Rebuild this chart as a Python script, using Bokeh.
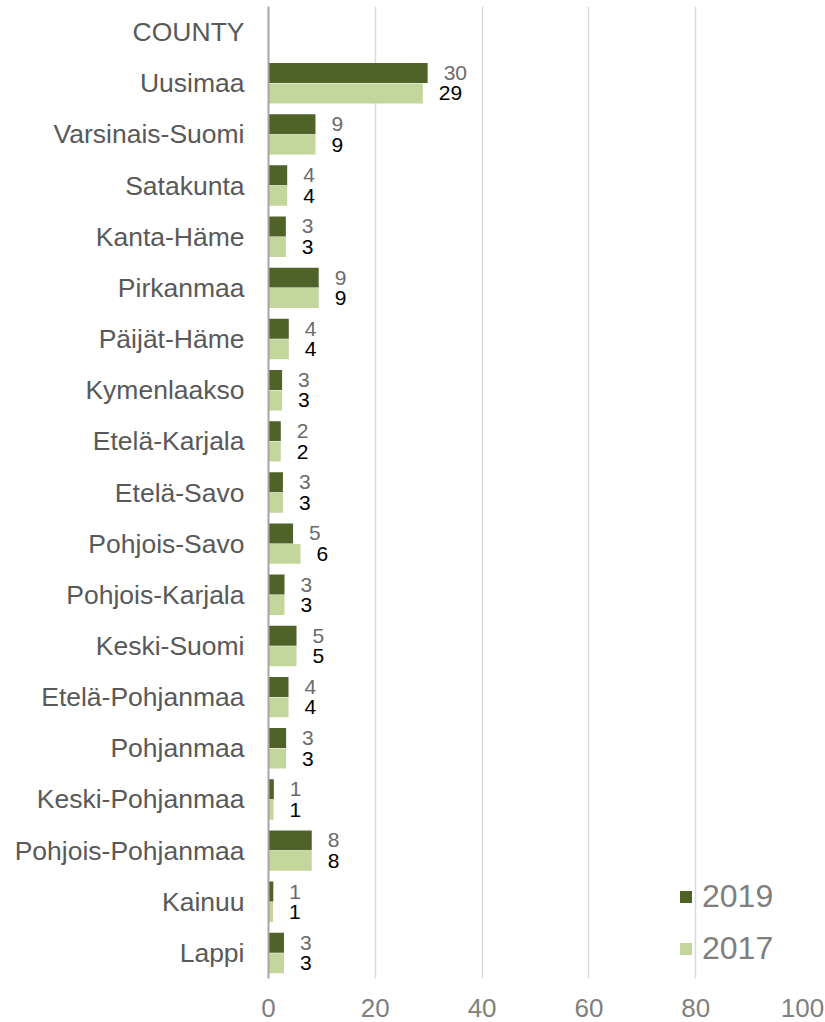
from bokeh.plotting import figure
from bokeh.models import FactorRange, Range1d, ColumnDataSource, FixedTicker, Legend, LegendItem
from bokeh.transform import dodge
from bokeh.core.properties import value
from bokeh.embed import file_html
from bokeh.resources import INLINE

header = "COUNTY"
counties = ["Uusimaa", "Varsinais-Suomi", "Satakunta", "Kanta-Häme", "Pirkanmaa",
            "Päijät-Häme", "Kymenlaakso", "Etelä-Karjala", "Etelä-Savo", "Pohjois-Savo",
            "Pohjois-Karjala", "Keski-Suomi", "Etelä-Pohjanmaa", "Pohjanmaa",
            "Keski-Pohjanmaa", "Pohjois-Pohjanmaa", "Kainuu", "Lappi"]
values_2019 = [29.8, 8.8, 3.5, 3.25, 9.4, 3.8, 2.55, 2.3, 2.7, 4.6, 3.0, 5.25, 3.75, 3.3, 1.0, 8.1, 0.9, 2.9]
values_2017 = [28.9, 8.8, 3.5, 3.25, 9.4, 3.8, 2.55, 2.3, 2.7, 6.0, 3.0, 5.25, 3.75, 3.3, 0.95, 8.1, 0.85, 2.9]
labels_2019 = [30, 9, 4, 3, 9, 4, 3, 2, 3, 5, 3, 5, 4, 3, 1, 8, 1, 3]
labels_2017 = [29, 9, 4, 3, 9, 4, 3, 2, 3, 6, 3, 5, 4, 3, 1, 8, 1, 3]
x_ticks = [0, 20, 40, 60, 80, 100]

FONT = "Liberation Sans"
DARK = "#4F6228"
LIGHT = "#C3D69B"

factors = list(reversed([header] + counties))

src = ColumnDataSource(dict(
    county=counties, v19=values_2019, v17=values_2017,
    l19=[str(v) for v in labels_2019], l17=[str(v) for v in labels_2017],
))

p = figure(y_range=FactorRange(factors=factors, range_padding=0),
           x_range=Range1d(0, 100),
           frame_width=534, frame_height=972,
           min_border_left=268, min_border_right=22, min_border_top=6, min_border_bottom=44,
           output_backend="svg", toolbar_location=None)

r19 = p.hbar(y=dodge("county", 0.2, range=p.y_range), right="v19", left=0, height=0.39,
             source=src, color=DARK, line_color=None)
r17 = p.hbar(y=dodge("county", -0.2, range=p.y_range), right="v17", left=0, height=0.39,
             source=src, color=LIGHT, line_color=None)

p.text(x="v19", y=dodge("county", 0.2, range=p.y_range), text="l19", source=src,
       x_offset=16, text_baseline="middle", text_align="left",
       text_font=value(FONT), text_font_size="21px", text_color="#6b6b6b")
p.text(x="v17", y=dodge("county", -0.2, range=p.y_range), text="l17", source=src,
       x_offset=16, text_baseline="middle", text_align="left",
       text_font=value(FONT), text_font_size="21px", text_color="#000000")

p.xaxis.ticker = FixedTicker(ticks=x_ticks)
p.xaxis.axis_line_color = None
p.xaxis.major_tick_line_color = None
p.xaxis.minor_tick_line_color = None
p.xaxis.major_label_text_font = FONT
p.xaxis.major_label_text_font_size = "26px"
p.xaxis.major_label_text_color = "#7f7f7f"
p.xaxis.major_label_standoff = 14

p.yaxis.axis_line_color = "#a6a6a6"
p.yaxis.axis_line_width = 2
p.yaxis.major_tick_line_color = None
p.yaxis.minor_tick_line_color = None
p.yaxis.major_label_text_font = FONT
p.yaxis.major_label_text_font_size = "26.5px"
p.yaxis.major_label_text_color = "#595959"
p.yaxis.major_label_standoff = 18

p.xgrid.grid_line_color = "#d9d9d9"
p.xgrid.grid_line_width = 1.5
p.ygrid.grid_line_color = None
p.outline_line_color = None

legend = Legend(items=[LegendItem(label="2019", renderers=[r19]),
                       LegendItem(label="2017", renderers=[r17])],
                location=(410, 11), orientation="vertical",
                label_text_font=FONT, label_text_font_size="32px", label_text_color="#7f7f7f",
                glyph_width=15, glyph_height=15, label_height=36, spacing=15,
                label_standoff=9, padding=0, margin=0,
                background_fill_alpha=0, border_line_alpha=0)
p.add_layout(legend, "center")

open("out.html", "w").write(file_html(p, INLINE))
